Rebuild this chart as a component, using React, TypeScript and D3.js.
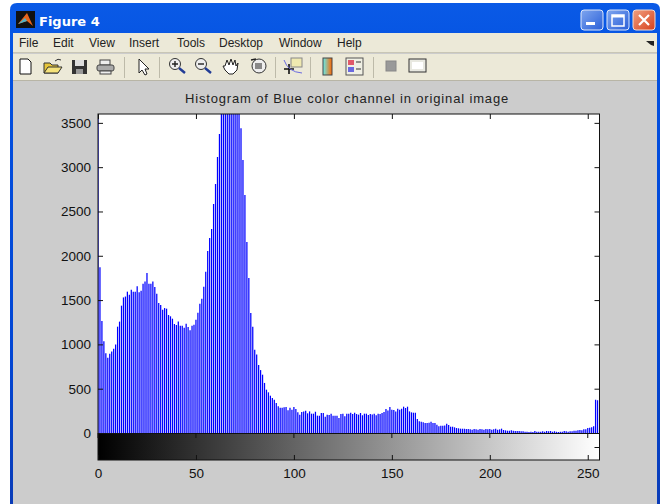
import { useEffect, useRef } from "react";
import * as d3 from "d3";

const counts = [
  3700, 1870, 1265, 1035, 900, 850, 895, 920, 950, 1000, 1200, 1257, 1437, 1530, 1540, 1595,
  1560, 1617, 1595, 1595, 1655, 1587, 1606, 1685, 1711, 1806, 1685, 1685, 1711, 1648, 1572, 1467,
  1445, 1392, 1410, 1403, 1332, 1317, 1290, 1230, 1219, 1257, 1211, 1211, 1189, 1234, 1196, 1159,
  1211, 1223, 1279, 1358, 1460, 1516, 1651, 1820, 2054, 2200, 2302, 2585, 2810, 3115, 3375, 3700,
  4000, 4300, 4600, 4700, 4500, 4300, 4000, 3800, 3650, 3440, 3080, 2685, 2155, 1750, 1355, 1200,
  940, 885, 767, 710, 658, 565, 489, 459, 421, 395, 376, 338, 301, 286, 286, 290,
  293, 256, 286, 263, 293, 270, 233, 207, 237, 244, 252, 222, 244, 218, 218, 240,
  196, 196, 226, 226, 184, 207, 203, 218, 196, 196, 196, 169, 214, 218, 188, 218,
  218, 229, 214, 229, 214, 207, 226, 200, 218, 218, 203, 214, 210, 218, 200, 218,
  214, 225, 237, 270, 255, 293, 263, 260, 244, 274, 263, 274, 297, 282, 297, 244,
  233, 229, 229, 158, 132, 128, 120, 113, 113, 116, 128, 113, 113, 94, 75, 83,
  83, 86, 105, 90, 71, 71, 64, 56, 53, 49, 49, 49, 45, 45, 41, 38,
  45, 41, 38, 45, 41, 38, 45, 41, 45, 38, 41, 49, 38, 41, 49, 34,
  30, 26, 26, 30, 26, 22, 22, 22, 19, 19, 15, 15, 11, 15, 11, 22,
  15, 15, 15, 19, 15, 22, 19, 22, 15, 19, 15, 11, 15, 15, 22, 19,
  15, 19, 19, 26, 26, 30, 34, 30, 41, 41, 56, 60, 64, 75, 376, 370,
];

const xTicks = [0, 50, 100, 150, 200, 250];
const yTicks = [0, 500, 1000, 1500, 2000, 2500, 3000, 3500];
const menuLabels = ["File", "Edit", "View", "Insert", "Tools", "Desktop", "Window", "Help"];
const menuLefts = [19, 53, 89, 129, 177, 219, 279, 337];
const separators = [124, 159, 275, 310, 373];
const titleText = "Histogram of Blue color channel in original image";

const font = "'Liberation Sans', Arial, sans-serif";

export default function App() {
  const xRef = useRef<SVGGElement>(null);
  const yRef = useRef<SVGGElement>(null);
  const topRef = useRef<SVGGElement>(null);
  const rightRef = useRef<SVGGElement>(null);

  const x = d3.scaleLinear().domain([0, 256]).range([98, 599.5]);
  const y = d3.scaleLinear().domain([0, 3600]).range([433, 114]);
  const barH = 27;

  useEffect(() => {
    const style = (g: any) => {
      g.select(".domain").remove();
      g.selectAll("line").attr("stroke", "#111").attr("stroke-width", 1);
      g.selectAll("text")
        .attr("fill", "#111")
        .style("font-family", font)
        .style("font-size", "13.5px");
    };
    d3.select(xRef.current)
      .call(d3.axisBottom(x).tickValues(xTicks).tickSize(-5).tickPadding(8).tickFormat(d3.format("d")) as any)
      .call(style);
    d3.select(topRef.current)
      .call(d3.axisTop(x).tickValues(xTicks).tickSize(-5).tickFormat(() => "") as any)
      .call(style);
    d3.select(yRef.current)
      .call(d3.axisLeft(y).tickValues(yTicks).tickSize(-5).tickPadding(7).tickFormat(d3.format("d")) as any)
      .call(style);
    d3.select(rightRef.current)
      .call(d3.axisRight(y).tickValues(yTicks).tickSize(-5).tickFormat(() => "") as any)
      .call(style);
    // the strip under the plot has its own ticks
    d3.select(xRef.current?.parentNode as any)
      .selectAll("line.strip")
      .data(xTicks)
      .join("line")
      .attr("class", "strip")
      .attr("x1", (d: number) => x(d))
      .attr("x2", (d: number) => x(d))
      .attr("y1", 433)
      .attr("y2", 438)
      .attr("stroke", "#111");
  }, []);

  return (
    <svg width={663} height={504} style={{ position: "absolute", left: 0, top: 0 }}>
      <defs>
        <linearGradient id="cap" x1="0" x2="0" y1="0" y2="1">
          <stop offset="0" stopColor="#0a5ae6" />
          <stop offset="0.15" stopColor="#0350e0" />
          <stop offset="0.7" stopColor="#0246d4" />
          <stop offset="1" stopColor="#0a3cb8" />
        </linearGradient>
        <linearGradient id="strip">
          <stop offset="0" stopColor="#000" />
          <stop offset="1" stopColor="#fff" />
        </linearGradient>
        <linearGradient id="closeBtn" x1="0" x2="1" y1="0" y2="1">
          <stop offset="0" stopColor="#f0a080" />
          <stop offset="1" stopColor="#d8401c" />
        </linearGradient>
        <linearGradient id="winBtn" x1="0" x2="1" y1="0" y2="1">
          <stop offset="0" stopColor="#7fa6ef" />
          <stop offset="1" stopColor="#2a5fd8" />
        </linearGradient>
        <linearGradient id="bar" x1="0" x2="1">
          <stop offset="0" stopColor="#6ee" />
          <stop offset="1" stopColor="#f60" />
        </linearGradient>
        <clipPath id="plot">
          <rect x={98} y={114} width={501.5} height={319} />
        </clipPath>
      </defs>

      {/* window frame */}
      <path d="M10 504V10Q10 3 17 3H653Q660 3 660 10V504Z" fill="url(#cap)" />
      <rect x={13} y={33} width={644} height={471} fill="#cccccc" />
      <rect x={13} y={33} width={644} height={19} fill="#ece9d8" />
      <rect x={13} y={52} width={644} height={1} fill="#c9c6b6" />
      <rect x={13} y={54} width={644} height={26} fill="#ece9d8" />
      <rect x={13} y={80} width={644} height={1} fill="#b8b5a6" />

      {/* title bar */}
      <rect x={16} y={11} width={19} height={17} fill="#111" />
      <path d="M18 24L27 13L33 26L27 21Z" fill="#e8641c" />
      <path d="M18 24L25 18L27 21Z" fill="#4fb3c8" />
      <text x={39} y={26} fill="#fff" fontFamily="'DejaVu Sans', sans-serif" fontSize={13} fontWeight={700}>
        Figure 4
      </text>
      <rect x={581} y={10} width={22} height={20} rx={3} fill="url(#winBtn)" stroke="#dfe8fa" />
      <rect x={586} y={22} width={9} height={3} fill="#fff" />
      <rect x={607} y={10} width={22} height={20} rx={3} fill="url(#winBtn)" stroke="#dfe8fa" />
      <rect x={612} y={15} width={12} height={11} fill="none" stroke="#fff" strokeWidth={1.5} />
      <rect x={612} y={15} width={12} height={2.5} fill="#fff" />
      <rect x={633} y={10} width={22} height={20} rx={3} fill="url(#closeBtn)" stroke="#f2dcd2" />
      <path d="M639 15L649 25M649 15L639 25" stroke="#fff" strokeWidth={2.2} />

      {/* menu */}
      {menuLabels.map((m, i) => (
        <text key={m} x={menuLefts[i]} y={47} fontFamily={font} fontSize={12} fill="#222">
          {m}
        </text>
      ))}
      <path d="M646 41L654 41L654 46L651 45Z" fill="#222" />

      {/* toolbar */}
      {separators.map((s) => (
        <rect key={s} x={s} y={57} width={1} height={21} fill="#bdbaa9" />
      ))}
      <path d="M20 59H28L31 62V74H20Z" fill="#fff" stroke="#111" />
      <path d="M44 73V63H50L52 65H58V73Z" fill="#e6c53a" stroke="#333" />
      <path d="M44 73L48 67H62L58 73Z" fill="#f5e27a" stroke="#333" />
      <path d="M55 61Q58 58 61 60" fill="none" stroke="#333" />
      <rect x={72} y={60} width={15} height={14} fill="#333" />
      <rect x={75} y={60} width={9} height={6} fill="#ddd" />
      <rect x={76} y={69} width={7} height={5} fill="#999" />
      <rect x={100} y={60} width={10} height={5} fill="#eee" stroke="#444" />
      <rect x={97} y={65} width={17} height={6} rx={2} fill="#aaa" stroke="#444" />
      <rect x={100} y={71} width={11} height={3} fill="#eee" stroke="#444" />
      <path d="M139 59V73L142 70L145 75L147 74L145 69H149Z" fill="#fff" stroke="#222" />
      <circle cx={175} cy={64} r={5.5} fill="#eee" stroke="#333" />
      <path d="M172 64H178M175 61V67" stroke="#222" strokeWidth={1.4} />
      <path d="M179 68L185 73" stroke="#223c96" strokeWidth={2.4} />
      <circle cx={201} cy={64} r={5.5} fill="#eee" stroke="#333" />
      <path d="M198 64H204" stroke="#222" strokeWidth={1.4} />
      <path d="M205 68L211 73" stroke="#223c96" strokeWidth={2.4} />
      <path d="M225 66L227 60L229 65L231 59L233 65L235 60L236 66L238 63L237 70L233 74H229L225 70L223 66Z" fill="#fff" stroke="#222" />
      <circle cx={259} cy={66} r={7} fill="#eee" stroke="#333" />
      <rect x={255} y={63} width={7} height={6} fill="#888" />
      <path d="M251 60L256 59" stroke="#222" strokeWidth={1.5} />
      <rect x={291} y={58} width={11} height={9} fill="#efe9b0" stroke="#888" />
      <path d="M284 69H294M289 64V74" stroke="#111" strokeWidth={1.6} />
      <path d="M284 60Q288 72 302 73" fill="none" stroke="#6a6ae0" />
      <rect x={323} y={58} width={9} height={17} fill="url(#bar)" stroke="#444" />
      <rect x={346} y={58} width={17} height={17} fill="#f0f0e4" stroke="#555" />
      <rect x={348} y={60} width={6} height={5} fill="#e05a6a" />
      <rect x={348} y={67} width={6} height={5} fill="#6a6ae0" />
      <path d="M356 62H361M356 69H361" stroke="#333" />
      <rect x={386} y={61} width={10} height={10} fill="#999" stroke="#888" />
      <rect x={409} y={59} width={17} height={13} fill="#e8e8e0" stroke="#333" />
      <rect x={412} y={62} width={11} height={7} fill="#fff" />

      <text x={347} y={103} textAnchor="middle" fontFamily={font} fontSize={13} fill="#222" letterSpacing={0.85}>
        {titleText}
      </text>

      {/* axes */}
      <rect x={98} y={114} width={501.5} height={319} fill="#fff" />
      <g clipPath="url(#plot)">
        {counts.map((c, i) => (
          <line key={i} x1={x(i)} x2={x(i)} y1={y(0)} y2={y(c)} stroke="#0000ff" strokeWidth={1.25} />
        ))}
      </g>
      <rect x={98} y={433} width={501.5} height={barH} fill="url(#strip)" />
      <line x1={98} x2={599.5} y1={433.5} y2={433.5} stroke="#111" />
      <line x1={594.5} x2={599.5} y1={447.5} y2={447.5} stroke="#111" />
      <rect x={98} y={114} width={501.5} height={346} fill="none" stroke="#111" />
      <g ref={xRef} transform="translate(0,460)" />
      <g ref={topRef} transform="translate(0,114)" />
      <g ref={yRef} transform="translate(98,0)" />
      <g ref={rightRef} transform="translate(599.5,0)" />
    </svg>
  );
}
